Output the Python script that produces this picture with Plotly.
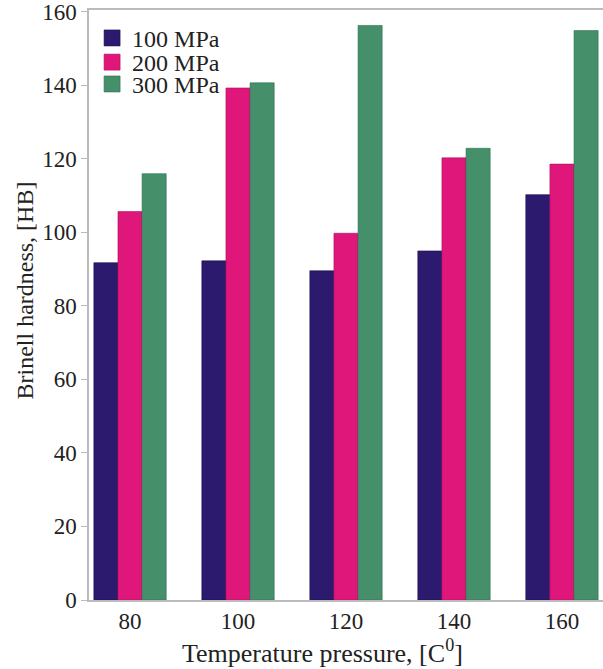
import plotly.graph_objects as go

temps = [80, 100, 120, 140, 160]
series_names = ["100 MPa", "200 MPa", "300 MPa"]
hb_100 = [91.7, 92.2, 89.5, 94.9, 110.2]
hb_200 = [105.6, 139.2, 99.7, 120.2, 118.5]
hb_300 = [115.9, 140.6, 156.2, 122.8, 154.8]
y_ticks = [0, 20, 40, 60, 80, 100, 120, 140, 160]

colors = ["#2b1a6e", "#e0177a", "#45906b"]
edge = ["#1c1050", "#a8105a", "#2f6e50"]
legend_ids = ["legend", "legend2", "legend3"]
legend_rows = [0.952, 0.911, 0.874]

font_family = "Liberation Serif"
txt_col = "#222222"

fig = go.Figure()
for name, vals, c, e in zip(series_names, [hb_100, hb_200, hb_300], colors, edge):
    fig.add_trace(go.Bar(x=temps, y=vals, name=name, showlegend=False,
                         marker=dict(color=c, line=dict(color=e, width=0.6))))
# legend entries with larger square swatches, one legend per row
for name, c, e, lid in zip(series_names, colors, edge, legend_ids):
    fig.add_trace(go.Scatter(x=[None], y=[None], mode="markers", name=name, legend=lid,
                             marker=dict(symbol="square", size=19, color=c,
                                         line=dict(color=e, width=0.6))))

def leg(yv):
    return dict(x=0.006, y=yv, xanchor="left", yanchor="middle",
                bgcolor="rgba(0,0,0,0)", borderwidth=0,
                font=dict(family=font_family, size=24, color=txt_col), itemwidth=30)

fig.update_layout(
    width=603, height=669,
    margin=dict(l=89, r=0, t=7, b=69),
    paper_bgcolor="white", plot_bgcolor="white",
    barmode="group", bargap=0.33, bargroupgap=0,
    font=dict(family=font_family, size=23, color=txt_col),
    legend=leg(legend_rows[0]), legend2=leg(legend_rows[1]), legend3=leg(legend_rows[2]),
    xaxis=dict(range=[72.4, 167.6], tickvals=temps, ticktext=[str(t) for t in temps],
               showgrid=False, zeroline=False, showline=True, linecolor="#bbbbbb",
               linewidth=1.5, mirror=True, ticks="", tickfont=dict(family=font_family, size=23)),
    yaxis=dict(range=[0, 160.4], tickvals=y_ticks, showgrid=False, zeroline=False,
               showline=True, linecolor="#bbbbbb", linewidth=1.5, ticks="outside",
               ticklen=6, tickcolor="#bbbbbb", ticklabeloverflow="allow",
               tickfont=dict(family=font_family, size=23)),
    annotations=[
        dict(text="Temperature pressure, [C<sup>0</sup>]", xref="paper", yref="paper",
             x=0.455, y=-0.088, xanchor="center", yanchor="middle", showarrow=False,
             font=dict(family=font_family, size=26, color=txt_col)),
        dict(text="Brinell hardness, [HB]", xref="paper", yref="paper", textangle=-90,
             x=-0.124, y=0.525, xanchor="center", yanchor="middle", showarrow=False,
             font=dict(family=font_family, size=24, color=txt_col)),
    ],
)

fig.write_html("out.html")
